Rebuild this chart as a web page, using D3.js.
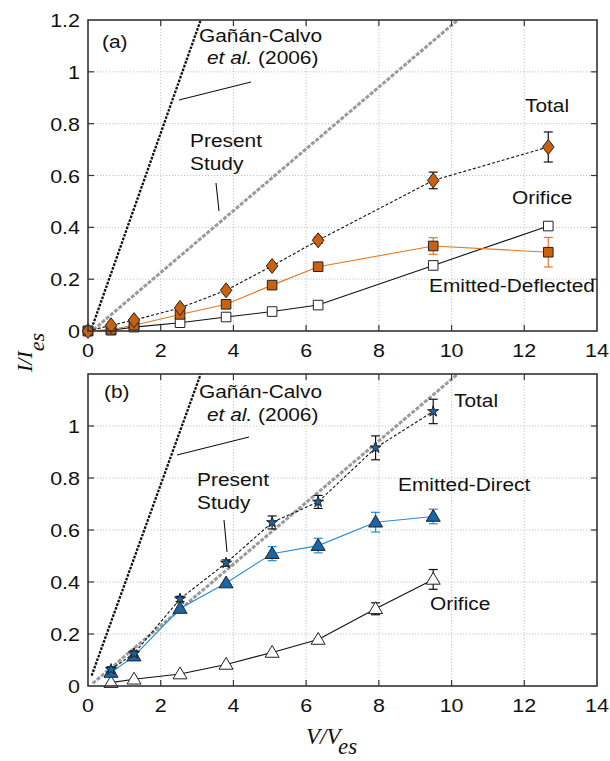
<!DOCTYPE html>
<html><head><meta charset="utf-8">
<script src="https://cdn.jsdelivr.net/npm/d3@7"></script>
<style>body{margin:0;background:#fff}</style>
</head><body>
<svg id="c" width="610" height="761" xmlns="http://www.w3.org/2000/svg"></svg>
<script>
// ---------- data ----------
const xTicks = [0, 2, 4, 6, 8, 10, 12, 14];
const xTickLabels = ["0", "2", "4", "6", "8", "10", "12", "14"];
const yTicksA = [0, 0.2, 0.4, 0.6, 0.8, 1, 1.2];
const yTickLabelsA = ["0", "0.2", "0.4", "0.6", "0.8", "1", "1.2"];
const yTicksB = [0, 0.2, 0.4, 0.6, 0.8, 1];
const yTickLabelsB = ["0", "0.2", "0.4", "0.6", "0.8", "1"];

// panel (a)
const xA = [0, 0.633, 1.266, 2.532, 3.798, 5.064, 6.33, 9.495, 12.66];
const totalA = [0, 0.022, 0.042, 0.089, 0.157, 0.251, 0.35, 0.581, 0.71];
const totalAErr = [0, 0, 0, 0, 0, 0, 0.012, 0.032, 0.058];
const deflA = [0, 0.006, 0.022, 0.064, 0.103, 0.177, 0.248, 0.328, 0.304];
const deflAErr = [0, 0, 0, 0, 0, 0, 0, 0.032, 0.057];
const orifA = [0, 0.003, 0.015, 0.032, 0.054, 0.075, 0.1, 0.253, 0.405];

// panel (b)
const xB = [0.633, 1.266, 2.532, 3.798, 5.064, 6.33, 7.91, 9.495];
const totalB = [0.064, 0.125, 0.335, 0.473, 0.629, 0.708, 0.916, 1.056];
const totalBErr = [0.01, 0.01, 0.01, 0.012, 0.025, 0.025, 0.046, 0.047];
const directB = [0.052, 0.115, 0.298, 0.396, 0.509, 0.54, 0.63, 0.652];
const directBErr = [0, 0, 0, 0, 0.027, 0.028, 0.038, 0.028];
const orifB = [0.013, 0.026, 0.046, 0.083, 0.129, 0.179, 0.297, 0.41];
const orifBErr = [0, 0, 0, 0, 0, 0, 0.023, 0.038];

// reference lines (x, y endpoints)
const gcAx = [0.1, 3.1], gcAy = [0.01, 1.2];
const psAx = [0.15, 10.17], psAy = [0.005, 1.2];
const gcBx = [0.1, 3.1], gcBy = [0.04, 1.2];
const psBx = [0.13, 10.17], psBy = [0.01, 1.2];

// ---------- drawing ----------
const svg = d3.select("#c");
const SX = 1.13;
const FONT = "'Liberation Sans', Arial, sans-serif";
const ORANGE_FILL = "#c8620e", ORANGE_LINE = "#e07a22";
const BLUE_FILL = "#1766a8", BLUE_LINE = "#2a8ad2";

const x = d3.scaleLinear().domain([0, 14]).range([88, 597]);

function text(g, px, py, parts, size, anchor, fam) {
  const t = g.append("g").attr("transform", `translate(${px},${py}) scale(${SX},1)`)
    .append("text").attr("x", 0).attr("y", 0)
    .attr("font-family", fam || FONT).attr("font-size", size)
    .attr("text-anchor", anchor || "start").attr("fill", "#111");
  (Array.isArray(parts) ? parts : [[parts]]).forEach(p => {
    const s = t.append("tspan").text(p[0]);
    if (p[1]) s.attr("font-style", "italic");
  });
  return t;
}

function panel(cfg) {
  const y = d3.scaleLinear().domain([0, 1.2]).range([cfg.y0, cfg.y1]);
  const g = svg.append("g");
  const [L, R] = x.range();
  const T = cfg.y1, B = cfg.y0;
  const clipId = "clip" + cfg.id;
  svg.append("clipPath").attr("id", clipId).append("rect")
    .attr("x", L).attr("y", T).attr("width", R - L).attr("height", B - T);

  // grid
  g.selectAll(".gx").data(xTicks.slice(1, -1)).join("line")
    .attr("x1", d => x(d)).attr("x2", d => x(d)).attr("y1", T).attr("y2", B)
    .attr("stroke", "#b8b8b8").attr("stroke-width", 0.8).attr("stroke-dasharray", "1.2,1.8");
  g.selectAll(".gy").data(cfg.yTicks.filter(v => v > 0 && v < 1.2)).join("line")
    .attr("x1", L).attr("x2", R).attr("y1", d => y(d)).attr("y2", d => y(d))
    .attr("stroke", "#b8b8b8").attr("stroke-width", 0.8).attr("stroke-dasharray", "1.2,1.8");

  const clip = g.append("g").attr("clip-path", `url(#${clipId})`);
  const line = d3.line().x(d => x(d[0])).y(d => y(d[1]));

  // reference lines
  clip.append("path").attr("d", line(d3.zip(cfg.psx, cfg.psy))).attr("fill", "none")
    .attr("stroke", "#9a9a9a").attr("stroke-width", 3).attr("stroke-dasharray", "4,1.5");
  clip.append("path").attr("d", line(d3.zip(cfg.gcx, cfg.gcy))).attr("fill", "none")
    .attr("stroke", "#111").attr("stroke-width", 2.3).attr("stroke-dasharray", "2.6,1.3");

  // series
  cfg.series.forEach(s => {
    const pts = d3.zip(cfg.xs, s.y);
    clip.append("path").attr("d", line(pts)).attr("fill", "none")
      .attr("stroke", s.line).attr("stroke-width", 1.1)
      .attr("stroke-dasharray", s.dash || null);
  });
  cfg.series.forEach(s => {
    if (!s.err) return;
    const eg = clip.append("g").attr("stroke", s.errColor).attr("stroke-width", 1.2);
    cfg.xs.forEach((xv, i) => {
      const e = s.err[i];
      if (!e) return;
      const cx = x(xv), ya = y(s.y[i] - e), yb = y(s.y[i] + e);
      eg.append("line").attr("x1", cx).attr("x2", cx).attr("y1", ya).attr("y2", yb);
      eg.append("line").attr("x1", cx - 4.5).attr("x2", cx + 4.5).attr("y1", ya).attr("y2", ya);
      eg.append("line").attr("x1", cx - 4.5).attr("x2", cx + 4.5).attr("y1", yb).attr("y2", yb);
    });
  });
  cfg.series.forEach(s => {
    g.selectAll(null).data(d3.zip(cfg.xs, s.y)).join("path")
      .attr("transform", d => `translate(${x(d[0])},${y(d[1])})`)
      .attr("d", s.shape).attr("fill", s.fill).attr("stroke", "#222").attr("stroke-width", 1);
  });

  // frame
  g.append("rect").attr("x", L).attr("y", T).attr("width", R - L).attr("height", B - T)
    .attr("fill", "none").attr("stroke", "#333").attr("stroke-width", 1.6);
  // ticks (inward, all sides)
  const tk = g.append("g").attr("stroke", "#333").attr("stroke-width", 1.2);
  xTicks.slice(1, -1).forEach(v => {
    tk.append("line").attr("x1", x(v)).attr("x2", x(v)).attr("y1", B).attr("y2", B - 6);
    tk.append("line").attr("x1", x(v)).attr("x2", x(v)).attr("y1", T).attr("y2", T + 6);
  });
  cfg.yTicks.filter(v => v > 0 && v < 1.2).forEach(v => {
    tk.append("line").attr("x1", L).attr("x2", L + 6).attr("y1", y(v)).attr("y2", y(v));
    tk.append("line").attr("x1", R).attr("x2", R - 6).attr("y1", y(v)).attr("y2", y(v));
  });
  // tick labels
  xTicks.forEach((v, i) => text(g, x(v), B + 26, xTickLabels[i], 19, "middle"));
  cfg.yTicks.forEach((v, i) => text(g, 80, y(v) + 7, cfg.yLabels[i], 19, "end"));

  // annotations
  cfg.labels.forEach(l => text(g, l.x, l.y, l.t, 18.5, "start"));
  cfg.leaders.forEach(l => g.append("line").attr("x1", l[0]).attr("y1", l[1])
    .attr("x2", l[2]).attr("y2", l[3]).attr("stroke", "#111").attr("stroke-width", 1.1));
}

const diamond = "M0,-7.5L5.8,0L0,7.5L-5.8,0Z";
const square = "M-4.8,-4.8H4.8V4.8H-4.8Z";
const tri = "M0,-7L7,4.8L-7,4.8Z";
const star = d3.symbol(d3.symbolStar, 38)();

panel({
  id: "a", y0: 331, y1: 20, yTicks: yTicksA, yLabels: yTickLabelsA, xs: xA,
  gcx: gcAx, gcy: gcAy, psx: psAx, psy: psAy,
  series: [
    { y: orifA, line: "#111", fill: "#fff", shape: square },
    { y: deflA, err: deflAErr, errColor: ORANGE_LINE, line: ORANGE_LINE, fill: ORANGE_FILL, shape: square },
    { y: totalA, err: totalAErr, errColor: "#111", line: "#111", dash: "3,2", fill: ORANGE_FILL, shape: diamond }
  ],
  labels: [
    { x: 102, y: 48, t: "(a)" },
    { x: 199, y: 42, t: "Gañán-Calvo" },
    { x: 207, y: 64, t: [["et al.", 1], [" (2006)"]] },
    { x: 190, y: 147, t: "Present" },
    { x: 190, y: 170, t: "Study" },
    { x: 525, y: 112, t: "Total" },
    { x: 512, y: 204, t: "Orifice" },
    { x: 429, y: 292, t: "Emitted-Deflected" }
  ],
  leaders: [[179, 100, 251, 82], [216, 183, 219, 211]]
});

panel({
  id: "b", y0: 686, y1: 374, yTicks: yTicksB, yLabels: yTickLabelsB, xs: xB,
  gcx: gcBx, gcy: gcBy, psx: psBx, psy: psBy,
  series: [
    { y: orifB, err: orifBErr, errColor: "#111", line: "#111", fill: "#fff", shape: tri },
    { y: directB, err: directBErr, errColor: BLUE_LINE, line: BLUE_LINE, fill: BLUE_FILL, shape: tri },
    { y: totalB, err: totalBErr, errColor: "#111", line: "#111", dash: "3,2", fill: BLUE_FILL, shape: star }
  ],
  labels: [
    { x: 104, y: 398, t: "(b)" },
    { x: 199, y: 398, t: "Gañán-Calvo" },
    { x: 207, y: 421, t: [["et al.", 1], [" (2006)"]] },
    { x: 197, y: 486, t: "Present" },
    { x: 197, y: 509, t: "Study" },
    { x: 454, y: 407, t: "Total" },
    { x: 398, y: 491, t: "Emitted-Direct" },
    { x: 430, y: 610, t: "Orifice" }
  ],
  leaders: [[177, 455, 249, 437], [224, 520, 227, 552]]
});

// axis titles
const serif = "'Liberation Serif', 'Times New Roman', serif";
const xl = svg.append("text").attr("x", 306).attr("y", 744)
  .attr("font-family", serif).attr("font-size", 23).attr("font-style", "italic").attr("fill", "#111");
xl.append("tspan").text("V/V");
xl.append("tspan").attr("dy", 10).text("es");

const yl = svg.append("text").attr("transform", "translate(32,372) rotate(-90)")
  .attr("font-family", serif).attr("font-size", 22).attr("font-style", "italic").attr("fill", "#111");
yl.append("tspan").text("I/I");
yl.append("tspan").attr("dy", 12).text("es");
</script>
</body></html>
